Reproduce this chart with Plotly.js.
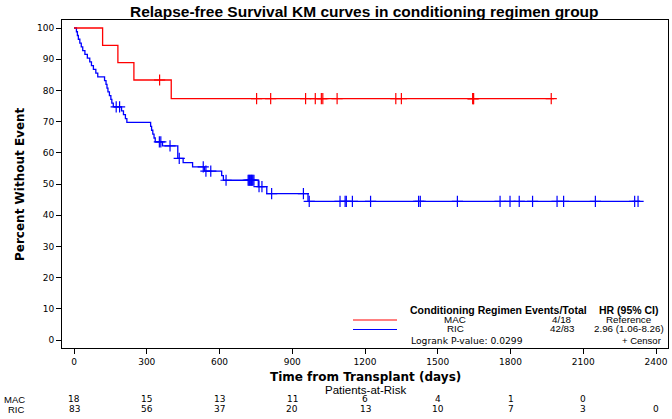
<!DOCTYPE html>
<html><head><meta charset="utf-8">
<script src="https://cdn.plot.ly/plotly-3.0.1.min.js"></script>
<style>body{margin:0;background:#fff}#c{width:672px;height:419px}</style></head>
<body><div id="c"></div>
<script>
// ---- data ----
const groups = ["MAC", "RIC"];
const macStepT = [0, 118, 181, 247, 401, 1979];
const macStepS = [100, 94.44, 88.89, 83.33, 77.38, 77.38];
const macCensorT = [353, 753, 811, 955, 995, 1020, 1026, 1085, 1327, 1350, 1644, 1646, 1648, 1968];
const ricStepT = [0, 10, 14, 18, 24, 30, 36, 45, 55, 65, 72, 80, 90, 98, 126, 132, 136, 140, 146, 152, 156, 162,
  196, 204, 212, 218, 316, 320, 325, 330, 335, 365, 428, 450, 489, 538, 609, 616, 760, 795, 965, 2334];
const ricStepS = [100, 98.80, 97.59, 96.39, 95.18, 93.98, 92.77, 91.57, 90.36, 89.16, 87.95, 86.75, 85.54, 84.34,
  83.13, 81.93, 80.72, 79.52, 78.31, 77.11, 75.90, 74.70, 73.46, 72.21, 70.97, 69.72, 68.48, 67.23, 65.99, 64.74,
  63.50, 62.20, 58.23, 56.88, 55.52, 54.13, 52.67, 51.20, 49.15, 46.92, 44.45, 44.45];
const ricCensorT = [174, 188, 352, 358, 396, 434, 533, 544, 564, 627, 718, 721, 724, 727, 730, 732, 735, 738, 742,
  763, 775, 815, 946, 970, 1097, 1118, 1123, 1148, 1223, 1421, 1428, 1581, 1757, 1798, 1836, 1891, 1992, 2019,
  2150, 2312, 2326];
const riskTimes = [0, 300, 600, 900, 1200, 1500, 1800, 2100, 2400];
const macRisk = [18, 15, 13, 11, 6, 4, 1, 0];
const ricRisk = [83, 56, 37, 20, 13, 10, 7, 3, 0];
const legendCols = ["Conditioning Regimen", "Events/Total", "HR (95% CI)"];
const eventsTotal = ["4/18", "42/83"];
const hrText = ["Reference", "2.96 (1.06-8.26)"];
const pText = "Logrank P-value: 0.0299";
const xTicks = [0, 300, 600, 900, 1200, 1500, 1800, 2100, 2400];
const yTicks = [0, 10, 20, 30, 40, 50, 60, 70, 80, 90, 100];

// ---- layout helpers ----
const W = 672, H = 419, L = 62, R = 4, T = 20, B = 71;
const pw = W - L - R, ph = H - T - B;
const fx = x => (x - L) / pw;
const fy = y => (H - B - y) / ph;
const RED = "#ff0000", BLUE = "#0000ff";
const FONT = "DejaVu Sans, sans-serif";
const ARIAL = "Liberation Sans, Arial, sans-serif";

function lookup(ts, ss, t) {
  let v = ss[0];
  for (let i = 0; i < ts.length; i++) { if (ts[i] <= t) v = ss[i]; }
  return v;
}

const traces = [];
function addGroup(st, ss, ct, col) {
  traces.push({x: st, y: ss, type: "scatter", mode: "lines", line: {color: col, width: 1.3, shape: "hv"},
    hoverinfo: "skip", showlegend: false});
  traces.push({x: ct, y: ct.map(t => lookup(st, ss, t)), type: "scatter", mode: "markers",
    marker: {symbol: "cross-thin-open", size: 8, line: {color: col, width: 1.2}, color: col},
    hoverinfo: "skip", showlegend: false});
}
addGroup(ricStepT, ricStepS, ricCensorT, BLUE);
addGroup(macStepT, macStepS, macCensorT, RED);

const ann = [];
function txt(text, x, y, opts) {
  ann.push(Object.assign({text: text, x: x, y: y, xref: "paper", yref: "paper", showarrow: false,
    xanchor: "center", yanchor: "middle", font: {family: ARIAL, size: 9.8, color: "#000"}}, opts || {}));
}
// title & axis titles
txt("<b>Relapse-free Survival KM curves in conditioning regimen group</b>", fx(364), fy(11),
  {font: {family: ARIAL, size: 15.5, color: "#000"}});
txt("<b>Time from Transplant (days)</b>", fx(365), fy(377), {font: {family: FONT, size: 12, color: "#000"}});
txt("<b>Percent Without Event</b>", fx(20), fy(184), {textangle: -90, font: {family: FONT, size: 12, color: "#000"}});
txt("Patients-at-Risk", fx(365), fy(389.5), {font: {family: ARIAL, size: 11.5, color: "#000"}});
// at-risk table
const riskRows = [macRisk, ricRisk];
const rowY = [399, 409];
groups.forEach((g, i) => {
  txt(g, fx(27), fy(rowY[i]), {xanchor: "right", font: {family: ARIAL, size: 9.5, color: "#000"}});
  riskRows[i].forEach((n, j) => {
    ann.push({text: String(n), x: riskTimes[j], xref: "x", y: fy(rowY[i]), yref: "paper", showarrow: false,
      xanchor: "center", yanchor: "middle", font: {family: FONT, size: 9, color: "#000"}});
  });
});
// legend block
const HDR = {family: ARIAL, size: 10.5, color: "#000"};
txt("<b>" + legendCols[0] + "</b>", fx(465.5), fy(310), {font: HDR});
txt("<b>" + legendCols[1] + "</b>", fx(556), fy(310), {font: HDR});
txt("<b>" + legendCols[2] + "</b>", fx(628.5), fy(310), {font: HDR});
const legY = [319.5, 328];
groups.forEach((g, i) => {
  txt(g, fx(455), fy(legY[i]));
  txt(eventsTotal[i], fx(562), fy(legY[i]));
  txt(hrText[i], fx(629), fy(legY[i]));
});
txt(pText, fx(409), fy(340), {xanchor: "left", font: {family: FONT, size: 9.2, color: "#000"}});
txt("+ Censor", fx(663), fy(340), {xanchor: "right", font: {family: ARIAL, size: 9.5, color: "#000"}});

const shapes = [
  {type: "line", xref: "paper", yref: "paper", x0: fx(353), x1: fx(397), y0: fy(320), y1: fy(320), line: {color: RED, width: 1}},
  {type: "line", xref: "paper", yref: "paper", x0: fx(353), x1: fx(397), y0: fy(329.5), y1: fy(329.5), line: {color: BLUE, width: 1}}
];

const layout = {
  width: W, height: H, margin: {l: L, r: R, t: T, b: B},
  paper_bgcolor: "#fff", plot_bgcolor: "#fff", showlegend: false,
  xaxis: {range: [(L - 74) / 0.2425, (W - R - 74) / 0.2425], tickvals: xTicks, ticktext: xTicks.map(String),
    ticks: "outside", ticklen: 5, tickcolor: "#000", showline: true, mirror: true, linecolor: "#000", linewidth: 1,
    showgrid: false, zeroline: false, tickfont: {family: FONT, size: 9, color: "#000"}},
  yaxis: {range: [-8 / 3.12, 320 / 3.12], tickvals: yTicks, ticktext: yTicks.map(String),
    ticks: "outside", ticklen: 5, tickcolor: "#000", showline: true, mirror: true, linecolor: "#000", linewidth: 1,
    showgrid: false, zeroline: false, tickfont: {family: FONT, size: 9, color: "#000"}},
  annotations: ann, shapes: shapes
};
Plotly.newPlot("c", traces, layout, {displayModeBar: false, staticPlot: true});
</script></body></html>
